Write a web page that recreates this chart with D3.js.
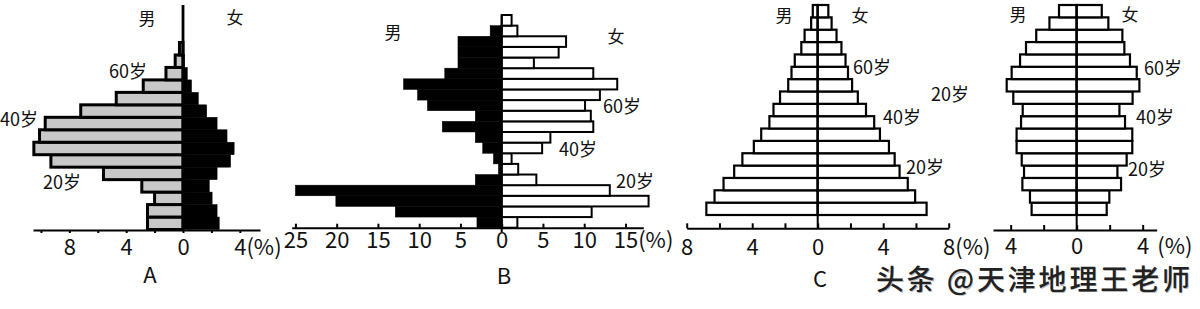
<!DOCTYPE html>
<html>
<head>
<meta charset="utf-8">
<script src="https://cdn.jsdelivr.net/npm/d3@7"></script>
<style>
body { margin: 0; background: #fff; }
svg { display: block; font-family: "Noto Sans CJK SC", "Noto Sans", sans-serif; }
</style>
</head>
<body>
<svg id="chart" width="1200" height="309"></svg>
<script>
// values in %, youngest age group first (bottom bar -> top bar)
var aMale   = [2.5, 2.5, 2.0, 2.9, 5.6, 9.3, 10.5, 10.1, 9.7, 7.2, 4.7, 2.8, 1.2, 0.55, 0.25];
var aFemale = [2.55, 2.4, 2.05, 1.85, 2.4, 3.35, 3.6, 3.1, 2.4, 1.67, 1.08, 0.6, 0.3, 0.1, 0.05];

var bMale   = [3.0, 12.9, 20.1, 25.0, 3.2, 0.4, 1.0, 2.3, 3.2, 7.2, 3.2, 9.0, 10.2, 11.9, 6.9, 5.3, 5.3, 5.3, 1.4, 0];
var bFemale = [1.9, 10.9, 17.8, 13.1, 4.2, 2.0, 1.2, 4.9, 5.9, 11.1, 10.8, 10.1, 11.9, 14.0, 11.1, 3.9, 6.9, 7.8, 1.9, 1.2];

var cMale   = [6.8, 6.3, 5.75, 5.1, 4.6, 3.9, 3.45, 2.95, 2.7, 2.3, 1.8, 1.6, 1.4, 1.0, 0.8, 0.4, 0.3];
var cFemale = [6.65, 5.95, 5.5, 5.0, 4.7, 4.35, 3.8, 3.45, 2.95, 2.45, 2.1, 1.85, 1.7, 1.45, 1.15, 0.85, 0.65];

var dMale   = [2.73, 2.83, 3.29, 3.19, 3.33, 3.64, 3.64, 3.37, 3.27, 3.84, 4.24, 3.94, 3.43, 3.07, 2.45, 1.65, 1.07];
var dFemale = [1.82, 1.98, 2.69, 2.47, 3.03, 3.37, 3.37, 2.93, 2.59, 3.39, 3.8, 3.64, 3.23, 2.89, 2.77, 1.92, 1.52];

// axis ticks (male side negative) and which ones get a label
var aTicks = [-10, -8, -6, -4, -2, 0, 2, 4];
var aTickLabels = [-8, -4, 0, 4];
var bTicks = [-25, -20, -15, -10, -5, 0, 5, 10, 15];
var bTickLabels = [-25, -20, -15, -10, -5, 0, 5, 10, 15];
var cTicks = [-8, -6, -4, -2, 0, 2, 4, 6, 8];
var cTickLabels = [-8, -4, 0, 4, 8];
var dTicks = [-4, -2, 0, 2, 4];
var dTickLabels = [-4, 0, 4];

var sexLabels = ["男", "女"];
var ageLabels = ["20岁", "40岁", "60岁"];
var panelNames = ["A", "B", "C", ""];
var unitLabel = "(%)";
var watermark = "头条 @天津地理王老师";

var svg = d3.select("#chart");

var panels = [
    { male: aMale, female: aFemale, ticks: aTicks, labels: aTickLabels, name: panelNames[0],
      min: -10.56, max: 5.42, left: 33, right: 260, axisY: 230, top: 42.5, bottom: 229.5,
      lineTop: 5, lineBottom: 230, lineW: 2.8, tickSize: 3, labelY: 247, unitGap: 0,
      maleFill: "#c8c8c8", maleStroke: "#000", maleSW: 3,
      femaleFill: "#000", femaleStroke: "#000", femaleSW: 0.5,
      sex: [[147, 19], [235, 18]], ages: [[62, 183], [19, 120], [128, 72]], namePos: [150, 275] },
    { male: bMale, female: bFemale, ticks: bTicks, labels: bTickLabels, name: panelNames[1],
      min: -25.45, max: 17.16, left: 291.7, right: 643.3, axisY: 227.7, top: 15, bottom: 227.7,
      lineTop: 15, lineBottom: 232, lineW: 2, tickSize: -4, labelY: 240, unitGap: 0,
      maleFill: "#000", maleStroke: "#000", maleSW: 0.5,
      femaleFill: "#fff", femaleStroke: "#000", femaleSW: 2,
      sex: [[393, 33], [616, 37]], ages: [[635, 182], [578, 150], [622, 107]], namePos: [504, 276] },
    { male: cMale, female: cFemale, ticks: cTicks, labels: cTickLabels, name: panelNames[2],
      min: -8, max: 8, left: 686.7, right: 948.7, axisY: 228.3, top: 5, bottom: 215,
      lineTop: 5, lineBottom: 228.3, lineW: 2, tickSize: -5, labelY: 247, unitGap: 0,
      maleFill: "#fff", maleStroke: "#000", maleSW: 2.2,
      femaleFill: "#fff", femaleStroke: "#000", femaleSW: 2.2,
      sex: [[784, 16], [860, 16]], ages: [[925, 167.5], [902, 117.5], [872, 67.5]], namePos: [820, 279] },
    { male: dMale, female: dFemale, ticks: dTicks, labels: dTickLabels, name: panelNames[3],
      min: -5.07, max: 4.85, left: 993, right: 1156.7, axisY: 230, top: 5, bottom: 215,
      lineTop: 5, lineBottom: 230, lineW: 2, tickSize: -5, labelY: 246, unitGap: 8,
      maleFill: "#fff", maleStroke: "#000", maleSW: 2.2,
      femaleFill: "#fff", femaleStroke: "#000", femaleSW: 2.2,
      sex: [[1018, 15], [1130, 15]], ages: [[1147, 170], [1155, 117.5], [1163, 69]], namePos: [0, 0] }
];

function drawPanel(p) {
    var g = svg.append("g");
    var x = d3.scaleLinear().domain([p.min, p.max]).range([p.left, p.right]);
    var y = d3.scaleBand().domain(d3.range(p.male.length)).range([p.bottom, p.top]);

    g.selectAll("rect.male")
        .data(p.male)
        .enter()
        .append("rect")
        .attr("class", "male")
        .attr("x", function(d) { return x(-d); })
        .attr("y", function(d, i) { return y(i); })
        .attr("width", function(d) { return x(0) - x(-d); })
        .attr("height", y.bandwidth())
        .attr("fill", p.maleFill)
        .attr("stroke", function(d) { return d > 0 ? p.maleStroke : "none"; })
        .attr("stroke-width", p.maleSW);

    g.selectAll("rect.female")
        .data(p.female)
        .enter()
        .append("rect")
        .attr("class", "female")
        .attr("x", x(0))
        .attr("y", function(d, i) { return y(i); })
        .attr("width", function(d) { return x(d) - x(0); })
        .attr("height", y.bandwidth())
        .attr("fill", p.femaleFill)
        .attr("stroke", p.femaleStroke)
        .attr("stroke-width", p.femaleSW);

    // centre line
    g.append("line")
        .attr("x1", x(0)).attr("x2", x(0))
        .attr("y1", p.lineTop).attr("y2", p.lineBottom)
        .attr("stroke", "#000")
        .attr("stroke-width", p.lineW);

    var axis = d3.axisBottom(x)
        .tickValues(p.ticks)
        .tickSize(p.tickSize)
        .tickSizeOuter(0)
        .tickFormat(function(d) { return p.labels.indexOf(d) >= 0 ? Math.abs(d) : ""; });

    var ag = g.append("g")
        .attr("transform", "translate(0," + p.axisY + ")")
        .call(axis);

    ag.attr("font-family", null).attr("font-size", 22);
    ag.select(".domain").attr("stroke-width", 2);
    ag.selectAll(".tick line").attr("stroke-width", 2);
    ag.selectAll(".tick text")
        .attr("y", p.labelY - p.axisY)
        .attr("dy", "0.36em")
        .attr("fill", "#111");

    // unit after the last label
    var last = p.labels[p.labels.length - 1];
    ag.selectAll(".tick text")
        .filter(function(d) { return d === last; })
        .each(function() {
            var t = d3.select(this);
            var num = t.text();
            t.text(null);
            t.append("tspan").text(num);
            t.append("tspan").attr("dx", p.unitGap).text(unitLabel);
            var w = this.getSubStringLength(0, num.length);
            t.attr("text-anchor", "start").attr("x", -w / 2);
        });

    var txt = svg.append("g")
        .attr("font-size", 18)
        .attr("fill", "#111")
        .attr("text-anchor", "middle");

    txt.selectAll("text.sex")
        .data(sexLabels)
        .enter()
        .append("text")
        .attr("x", function(d, i) { return p.sex[i][0]; })
        .attr("y", function(d, i) { return p.sex[i][1]; })
        .attr("dy", "0.36em")
        .attr("font-size", 17)
        .text(function(d) { return d; });

    txt.selectAll("text.age")
        .data(ageLabels)
        .enter()
        .append("text")
        .attr("x", function(d, i) { return p.ages[i][0]; })
        .attr("y", function(d, i) { return p.ages[i][1]; })
        .attr("dy", "0.36em")
        .text(function(d) { return d; });

    if (p.name) {
        svg.append("text")
            .attr("x", p.namePos[0])
            .attr("y", p.namePos[1])
            .attr("dy", "0.36em")
            .attr("text-anchor", "middle")
            .attr("font-size", 22)
            .attr("fill", "#111")
            .text(p.name);
    }
}

panels.forEach(drawPanel);

// stray age label sitting between C and D
svg.append("text")
    .attr("x", 950)
    .attr("y", 95)
    .attr("dy", "0.36em")
    .attr("text-anchor", "middle")
    .attr("font-size", 18)
    .attr("fill", "#111")
    .text(ageLabels[0]);

// watermark with a faint offset shadow
svg.append("text")
    .attr("x", 877)
    .attr("y", 291)
    .attr("font-size", 28)
    .attr("fill", "#bbb")
    .attr("textLength", 314)
    .attr("lengthAdjust", "spacing")
    .text(watermark);

svg.append("text")
    .attr("x", 876)
    .attr("y", 290)
    .attr("font-size", 28)
    .attr("font-weight", 500)
    .attr("fill", "#222")
    .attr("textLength", 314)
    .attr("lengthAdjust", "spacing")
    .text(watermark);
</script>
</body>
</html>
